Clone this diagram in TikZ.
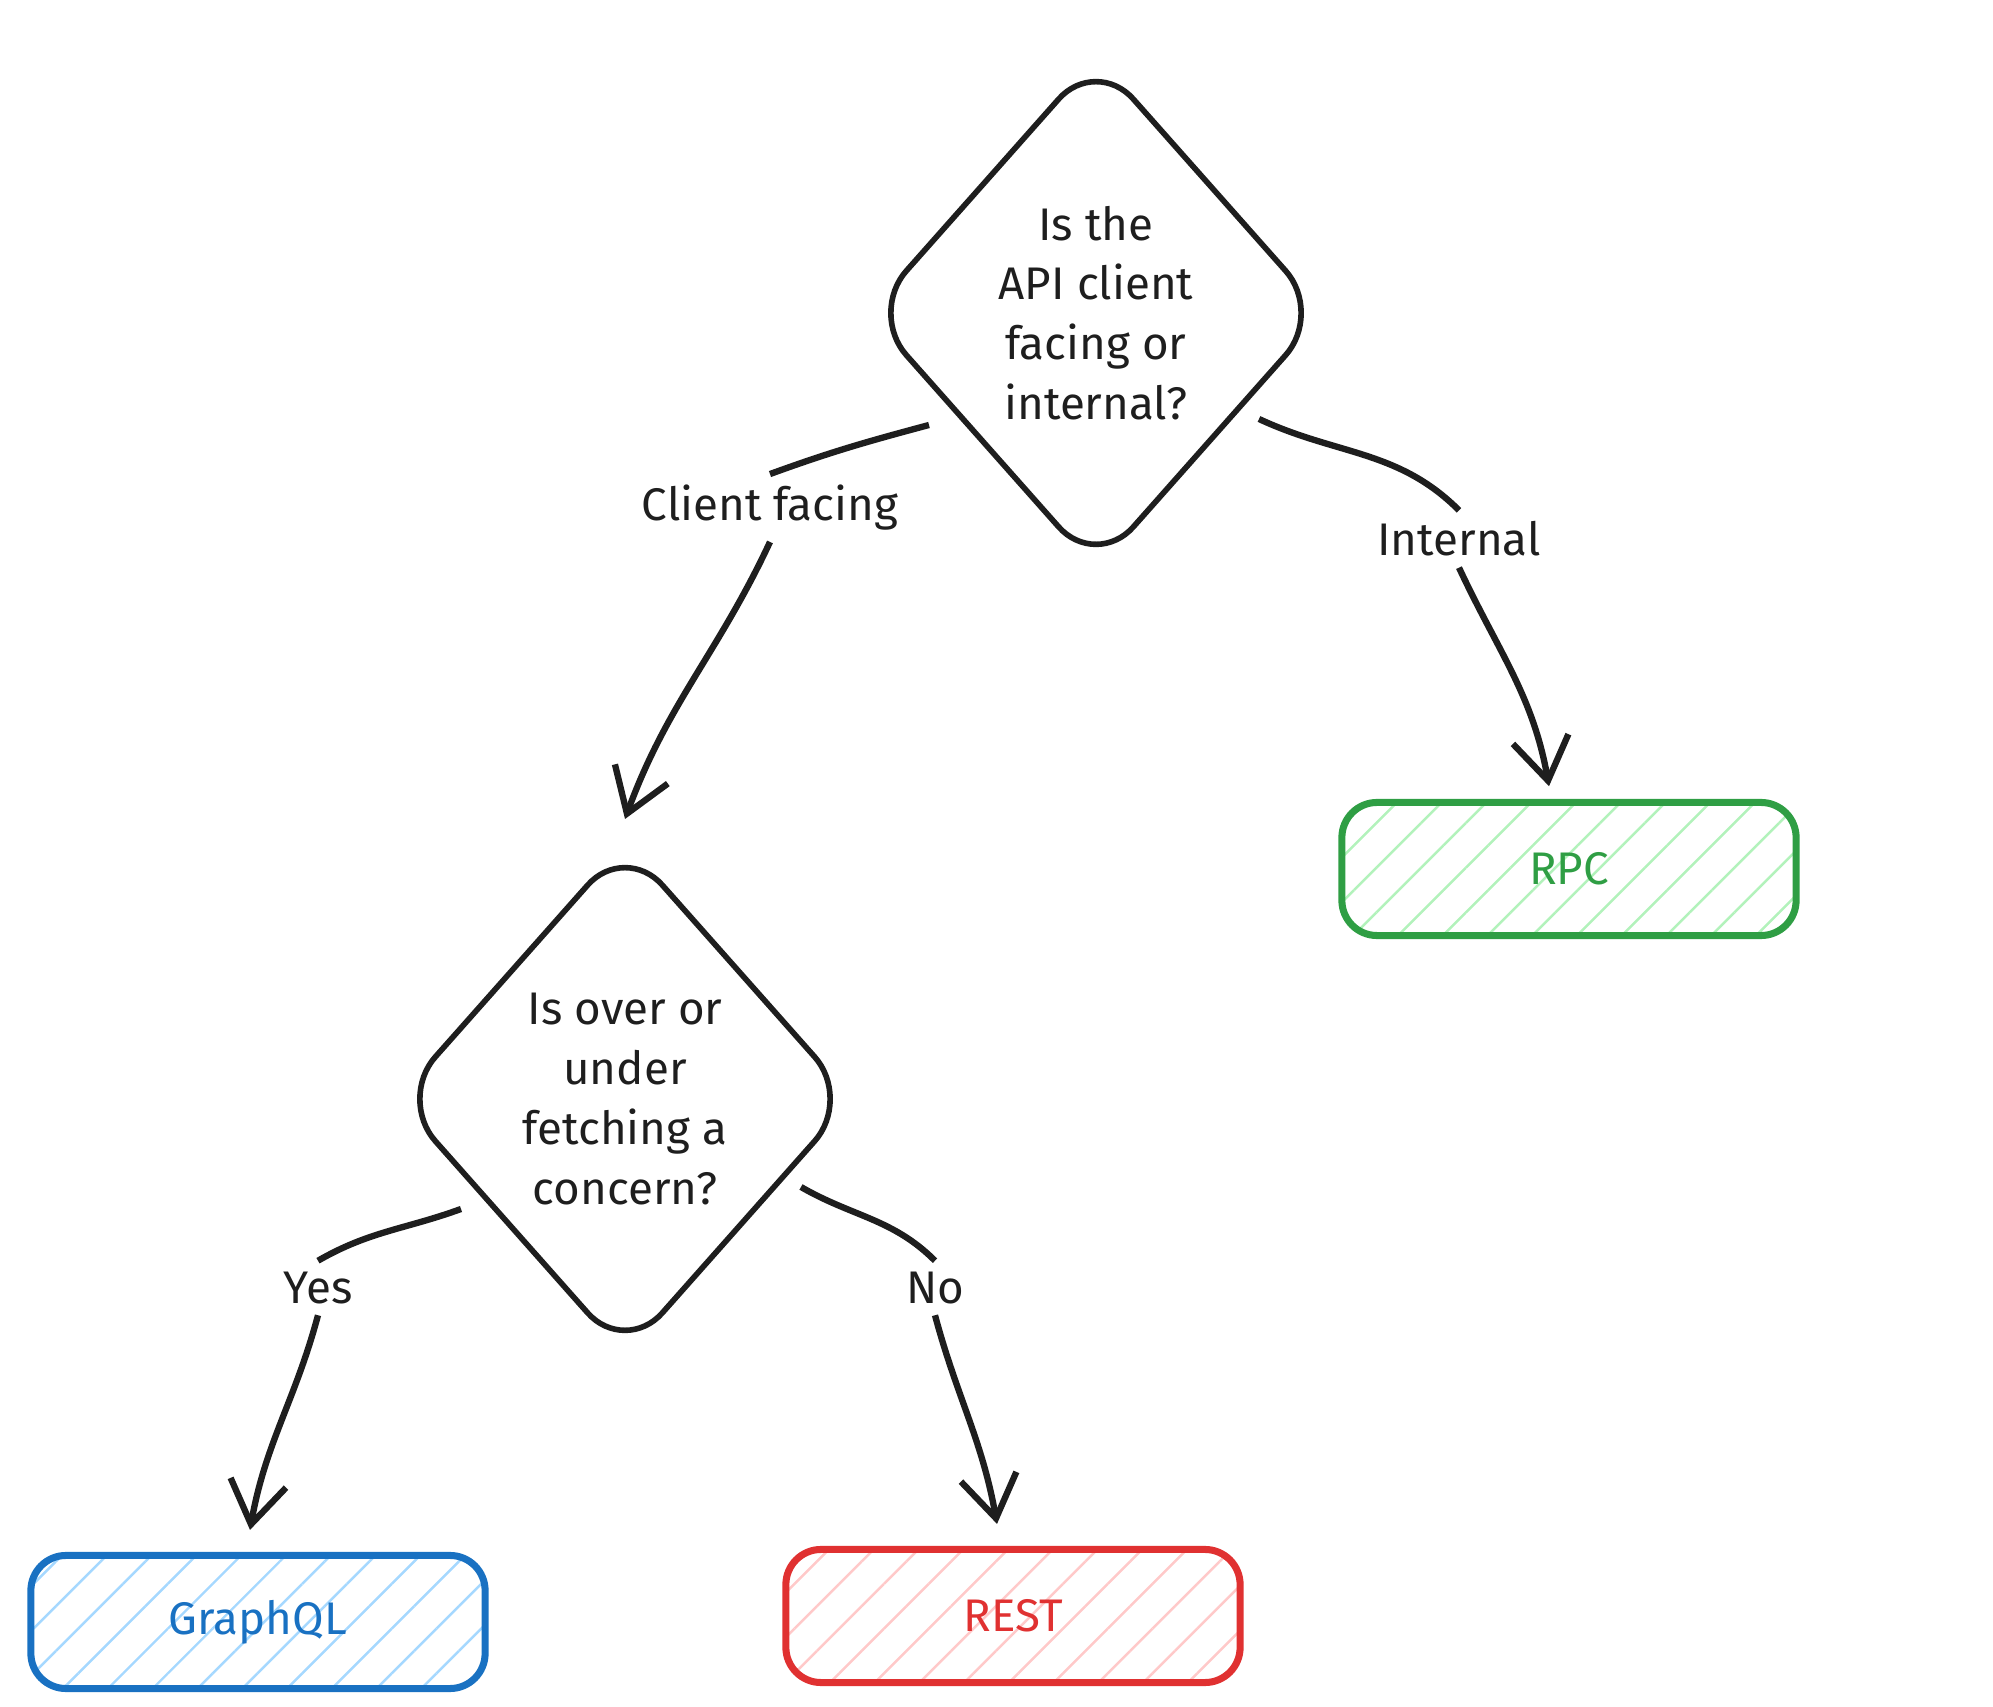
\documentclass[tikz,border=0pt]{standalone}
\usepackage{fontspec}
\setmainfont{Fira Sans}
\usetikzlibrary{patterns.meta,calc,arrows.meta}
\definecolor{ink}{HTML}{1E1E1E}
\definecolor{rpcline}{HTML}{2F9E44}
\definecolor{rpcfill}{HTML}{B2F2BB}
\definecolor{gqlline}{HTML}{1971C2}
\definecolor{gqlfill}{HTML}{A5D8FF}
\definecolor{restline}{HTML}{E03131}
\definecolor{restfill}{HTML}{FFC9C9}
\tikzset{
  question/.style={align=center, inner sep=0pt,
    font=\fontsize{13}{17}\selectfont, text=ink},
  rim/.style={draw=ink, line width=1.6pt, rounded corners=16pt},
  answer/.style={draw=#1line, line width=2pt, rounded corners=10pt,
    minimum width=4.54cm, minimum height=1.33cm, text=#1line,
    pattern={Lines[angle=45,distance=9pt,line width=0.7pt]}, pattern color=#1fill,
    font=\fontsize{13}{17}\selectfont},
  tag/.style={font=\fontsize{13}{17}\selectfont, text=ink, inner sep=3pt},
  flow/.style={draw=ink, line width=1.8pt, -{Straight Barb[length=12pt,width=16pt]}},
  plain/.style={draw=ink, line width=1.8pt}
}
\newcommand{\rimdiamond}[1]{%
  \draw[rim] ($(#1)+(0,-256)$) -- ($(#1)+(227,0)$) -- ($(#1)+(0,256)$)
    -- ($(#1)+(-227,0)$) -- cycle;}
\begin{document}
\begin{tikzpicture}[x=0.01cm, y=-0.01cm]
\useasboundingbox (0,0) rectangle (1993,1707);

\node[question] (api) at (1096,313) {Is the\\API client\\facing or\\internal?};
\node[question] (fetch) at (625,1099) {Is over or\\under\\fetching a\\concern?};
\rimdiamond{api}
\rimdiamond{fetch}

\node[answer=rpc] (rpc) at (1569,869) {RPC};
\node[answer=gql] (gql) at (258,1622) {GraphQL};
\node[answer=rest] (rest) at (1013,1616) {REST};

\node[tag] (client) at (770,508) {Client facing};
\node[tag] (internal) at (1459,539) {Internal};
\node[tag] (yes) at (318,1288) {Yes};
\node[tag] (no) at (935,1288) {No};

\coordinate (api-l) at ($(api)+(-167,112)$);
\coordinate (api-r) at ($(api)+(163,106)$);
\coordinate (fetch-l) at ($(fetch)+(-164,110)$);
\coordinate (fetch-r) at ($(fetch)+(176,88)$);
\coordinate (fetch-top) at ($(fetch)+(0,-280)$);
\coordinate (rpc-top) at ($(rpc.north)+(-20,-15)$);
\coordinate (gql-top) at ($(gql.north)+(-8,-22)$);
\coordinate (rest-top) at ($(rest.north)+(-16,-22)$);

% api -> fetch / rpc
\draw[plain] (api-l) to[out=195,in=20] (client.north);
\draw[flow] (client.south) to[out=-115,in=70] (fetch-top);
\draw[plain] (api-r) to[out=-25,in=135] (internal.north);
\draw[flow] (internal.south) to[out=-65,in=100] (rpc-top);

% fetch -> gql / rest
\draw[plain] (fetch-l) to[out=200,in=30] (yes.north);
\draw[flow] (yes.south) to[out=-105,in=80] (gql-top);
\draw[plain] (fetch-r) to[out=-30,in=135] (no.north);
\draw[flow] (no.south) to[out=-75,in=100] (rest-top);
\end{tikzpicture}
\end{document}
